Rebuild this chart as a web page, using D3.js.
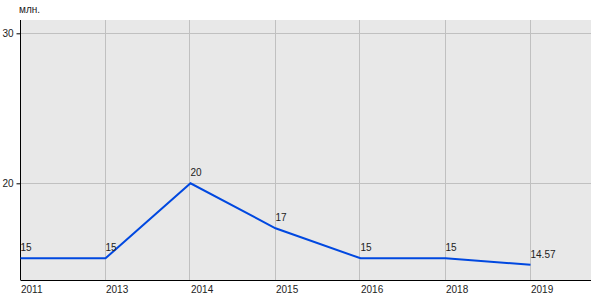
<!DOCTYPE html>
<html>
<head>
<meta charset="utf-8">
<script src="https://cdn.jsdelivr.net/npm/d3@7"></script>
<style>
  body { margin: 0; background: #fff; }
  text { font-family: "Liberation Sans", Arial, sans-serif; font-size: 10px; fill: #222; }
</style>
</head>
<body>
<svg id="chart" width="600" height="300"></svg>
<script>
// data
var years = ["2011", "2013", "2014", "2015", "2016", "2018", "2019"];
var values = [15, 15, 20, 17, 15, 15, 14.57];
var valueLabels = ["15", "15", "20", "17", "15", "15", "14.57"];
var yTicks = [20, 30];
var unitLabel = "млн.";

var svg = d3.select("#chart");

var plotLeft = 20.5, plotTop = 20, plotRight = 591, plotBottom = 280;

// x: one step per category, extra room on the right
var x = d3.scaleLinear().domain([0, 6]).range([plotLeft, plotLeft + 85 * 6]);
var y = d3.scaleLinear().domain([13.553, 30.887]).range([plotBottom, plotTop]);

// plot background
svg.append("rect")
    .attr("x", plotLeft)
    .attr("y", plotTop)
    .attr("width", plotRight - plotLeft)
    .attr("height", plotBottom - plotTop)
    .style("fill", "#e8e8e8");

// horizontal grid
svg.selectAll("line.hgrid")
    .data(yTicks)
  .enter().append("line")
    .attr("class", "hgrid")
    .attr("x1", plotLeft).attr("x2", plotRight)
    .attr("y1", d => Math.round(y(d)) + 0.5)
    .attr("y2", d => Math.round(y(d)) + 0.5)
    .style("stroke", "#c0c0c0");

// vertical grid
svg.selectAll("line.vgrid")
    .data(years.slice(1))
  .enter().append("line")
    .attr("class", "vgrid")
    .attr("x1", (d, i) => Math.round(x(i + 1)) - 0.5)
    .attr("x2", (d, i) => Math.round(x(i + 1)) - 0.5)
    .attr("y1", plotTop).attr("y2", plotBottom)
    .style("stroke", "#c0c0c0");

// y axis
var yAxis = d3.axisLeft(y).tickValues(yTicks).tickSize(4).tickPadding(3);
var gy = svg.append("g")
    .attr("transform", "translate(" + plotLeft + ",0)")
    .call(yAxis);
gy.select(".domain").attr("d", "M0," + plotTop + "V" + plotBottom).style("stroke", "#000");
gy.selectAll("text").style("font-size", "10px").style("font-family", null).style("fill", "#222");
gy.selectAll(".tick line").style("stroke", "#000");

// x axis line
svg.append("line")
    .attr("x1", plotLeft).attr("x2", plotRight)
    .attr("y1", plotBottom + 0.5).attr("y2", plotBottom + 0.5)
    .style("stroke", "#000");

// x labels
svg.selectAll("text.xlab")
    .data(years)
  .enter().append("text")
    .attr("class", "xlab")
    .attr("x", (d, i) => x(i) + 0.5)
    .attr("y", 293)
    .text(d => d);

// unit
svg.append("text")
    .attr("x", 19)
    .attr("y", 13)
    .text(unitLabel);

// line
var line = d3.line()
    .x((d, i) => x(i))
    .y(d => y(d));

svg.append("path")
    .datum(values)
    .attr("d", line)
    .style("fill", "none")
    .style("stroke", "#0048e0")
    .style("stroke-width", 2);

// value labels
svg.selectAll("text.vlab")
    .data(values)
  .enter().append("text")
    .attr("class", "vlab")
    .attr("x", (d, i) => x(i))
    .attr("y", d => y(d) - 7)
    .text((d, i) => valueLabels[i]);
</script>
</body>
</html>
